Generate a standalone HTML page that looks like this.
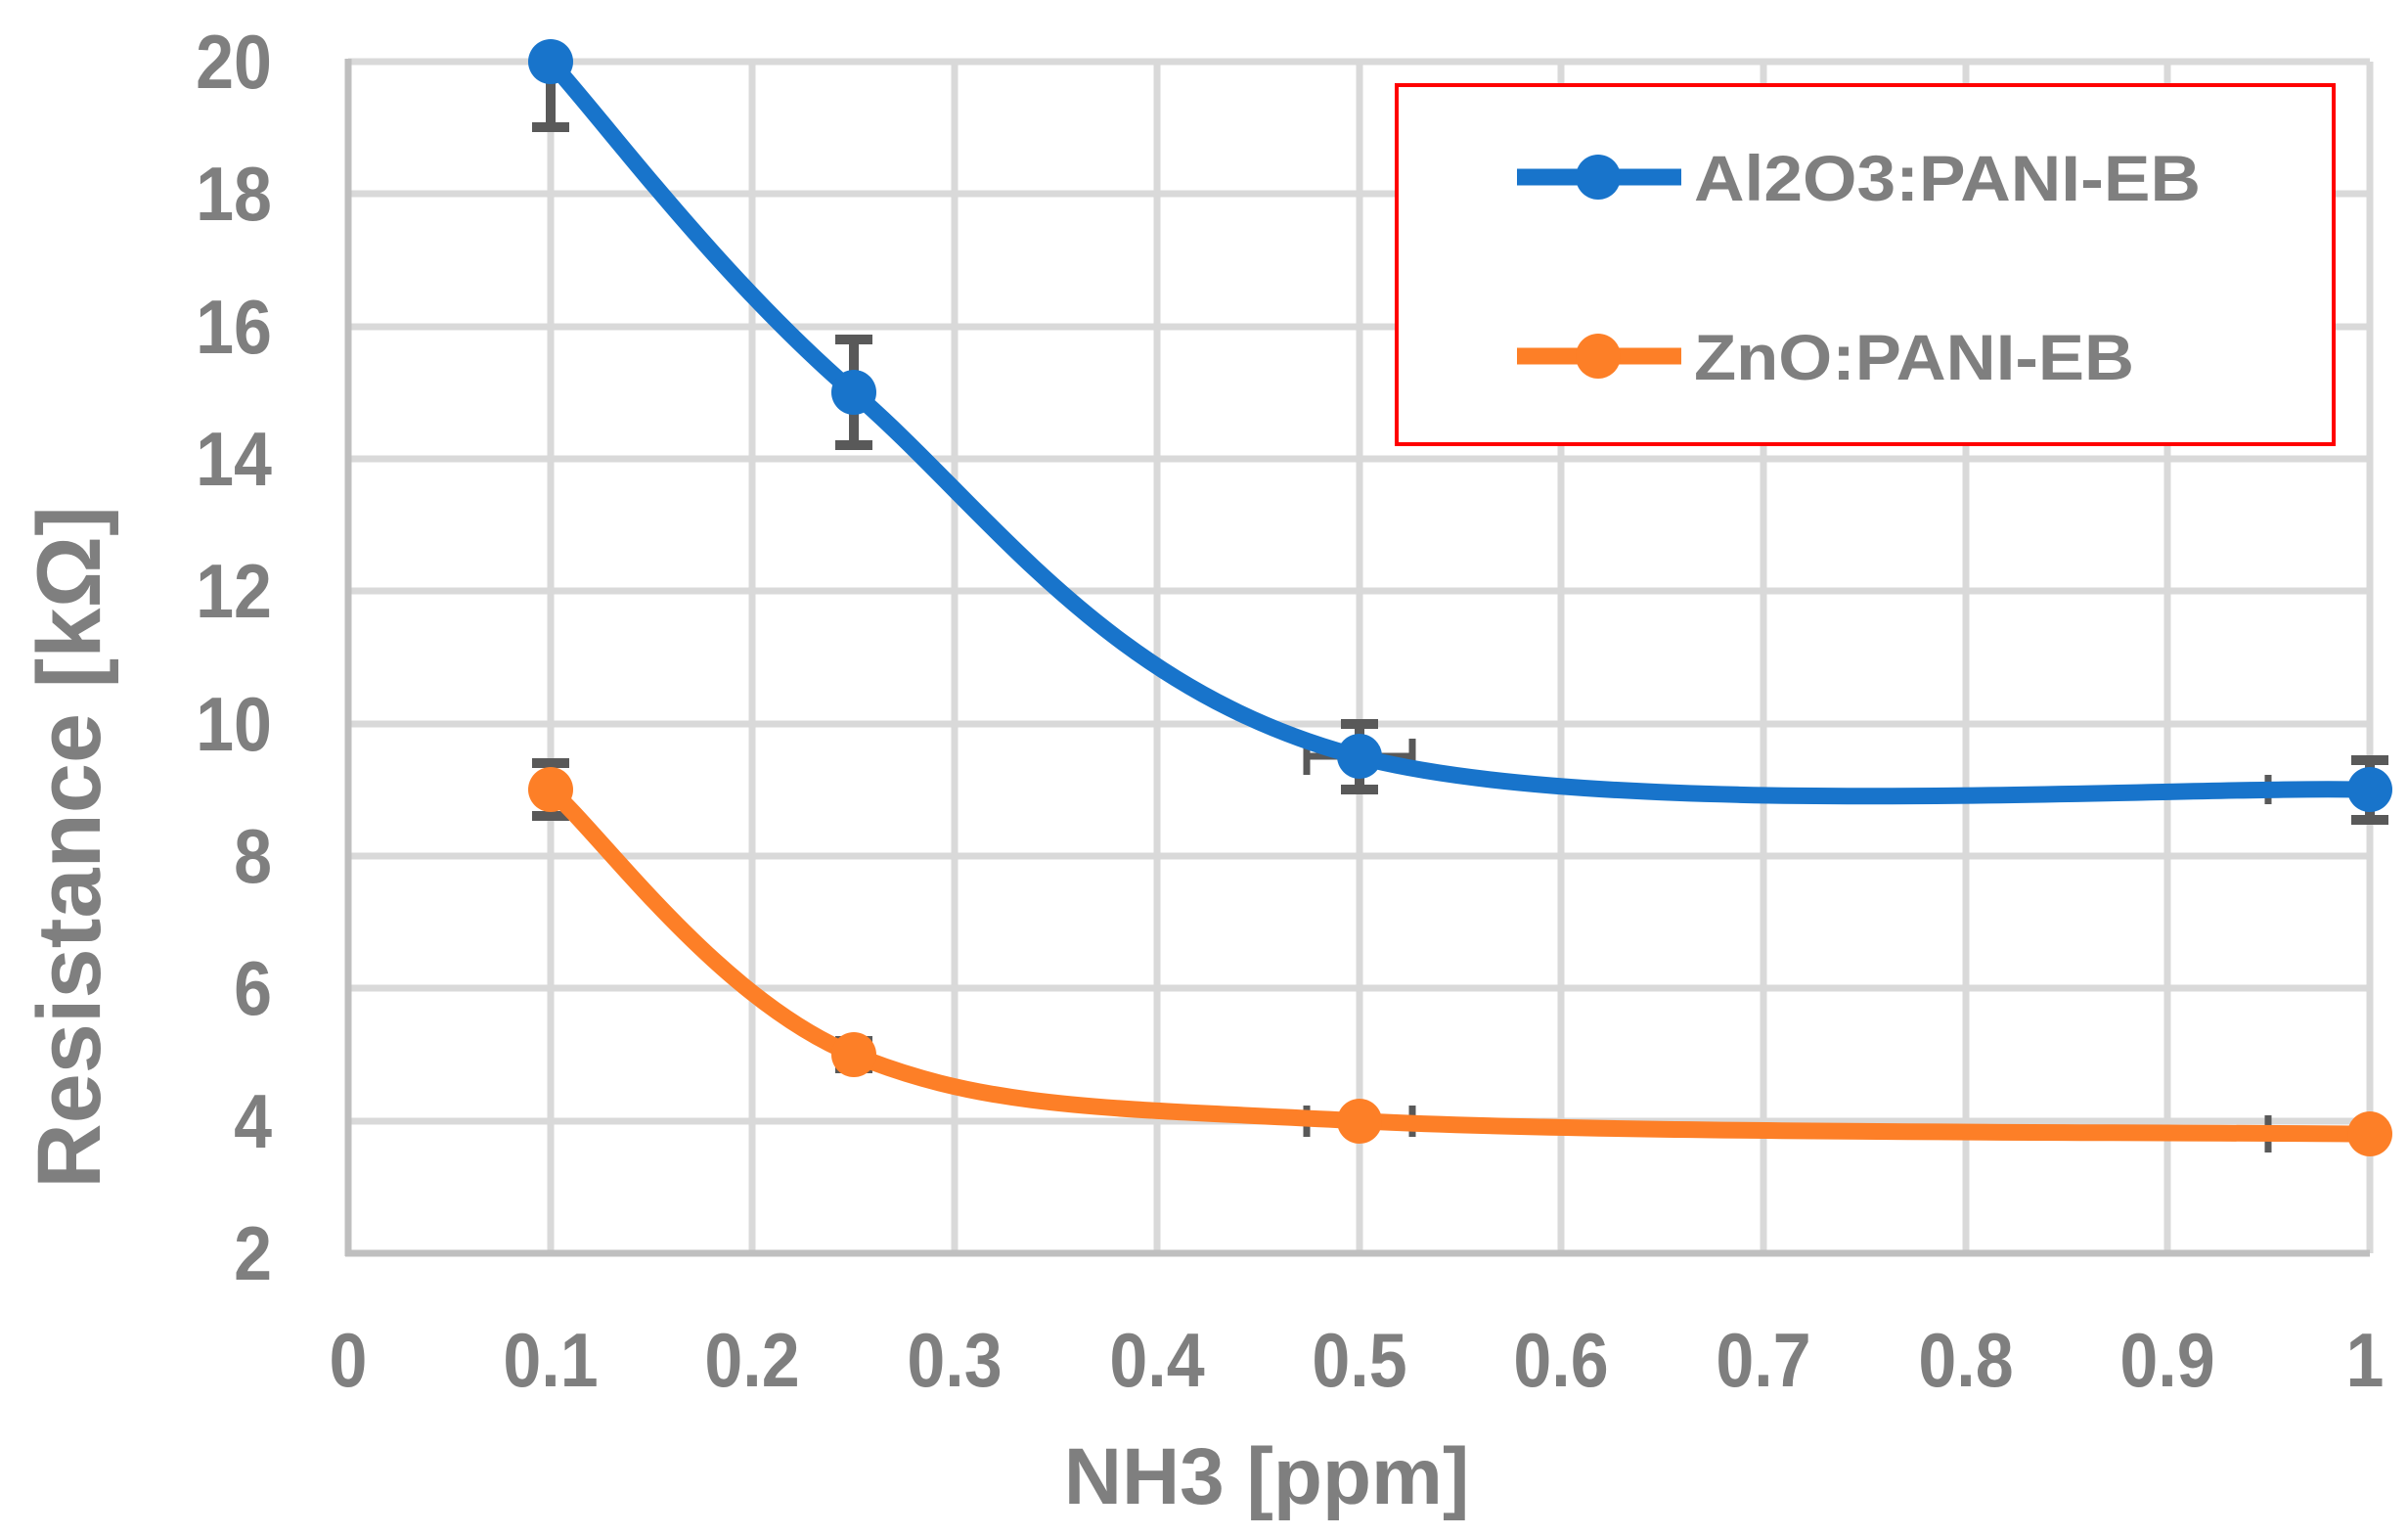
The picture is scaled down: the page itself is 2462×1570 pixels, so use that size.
<!DOCTYPE html>
<html><head><meta charset="utf-8"><style>html,body{margin:0;padding:0;background:#fff}svg{display:block}</style></head>
<body>
<svg width="2462" height="1570" viewBox="0 0 2462 1570" xmlns="http://www.w3.org/2000/svg">
<g stroke="#d9d9d9" stroke-width="7">
<line x1="356" y1="63" x2="2423" y2="63"/>
<line x1="356" y1="198" x2="2423" y2="198"/>
<line x1="356" y1="334" x2="2423" y2="334"/>
<line x1="356" y1="469" x2="2423" y2="469"/>
<line x1="356" y1="604" x2="2423" y2="604"/>
<line x1="356" y1="740" x2="2423" y2="740"/>
<line x1="356" y1="875" x2="2423" y2="875"/>
<line x1="356" y1="1010" x2="2423" y2="1010"/>
<line x1="356" y1="1146" x2="2423" y2="1146"/>
<line x1="563" y1="63" x2="563" y2="1281"/>
<line x1="769" y1="63" x2="769" y2="1281"/>
<line x1="976" y1="63" x2="976" y2="1281"/>
<line x1="1183" y1="63" x2="1183" y2="1281"/>
<line x1="1390" y1="63" x2="1390" y2="1281"/>
<line x1="1596" y1="63" x2="1596" y2="1281"/>
<line x1="1803" y1="63" x2="1803" y2="1281"/>
<line x1="2010" y1="63" x2="2010" y2="1281"/>
<line x1="2216" y1="63" x2="2216" y2="1281"/>
<line x1="2423" y1="63" x2="2423" y2="1281"/>
</g>
<g stroke="#bfbfbf" stroke-width="7">
<line x1="356" y1="60" x2="356" y2="1284"/>
<line x1="353" y1="1281" x2="2423" y2="1281"/>
</g>
<g font-family="'Liberation Sans',sans-serif" font-weight="bold" font-size="70" fill="#7f7f7f" text-anchor="end">
<text x="278" y="90" transform="translate(0,90) scale(1,1.12) translate(0,-90)">20</text>
<text x="278" y="225" transform="translate(0,225) scale(1,1.12) translate(0,-225)">18</text>
<text x="278" y="361" transform="translate(0,361) scale(1,1.12) translate(0,-361)">16</text>
<text x="278" y="496" transform="translate(0,496) scale(1,1.12) translate(0,-496)">14</text>
<text x="278" y="631" transform="translate(0,631) scale(1,1.12) translate(0,-631)">12</text>
<text x="278" y="767" transform="translate(0,767) scale(1,1.12) translate(0,-767)">10</text>
<text x="278" y="902" transform="translate(0,902) scale(1,1.12) translate(0,-902)">8</text>
<text x="278" y="1037" transform="translate(0,1037) scale(1,1.12) translate(0,-1037)">6</text>
<text x="278" y="1173" transform="translate(0,1173) scale(1,1.12) translate(0,-1173)">4</text>
<text x="278" y="1308" transform="translate(0,1308) scale(1,1.12) translate(0,-1308)">2</text>
</g>
<g font-family="'Liberation Sans',sans-serif" font-weight="bold" font-size="70" fill="#7f7f7f" text-anchor="middle">
<g transform="translate(0,1417) scale(1,1.12) translate(0,-1417)">
<text x="356" y="1417">0</text><text x="563" y="1417">0.1</text><text x="769" y="1417">0.2</text>
<text x="976" y="1417">0.3</text><text x="1183" y="1417">0.4</text><text x="1390" y="1417">0.5</text>
<text x="1596" y="1417">0.6</text><text x="1803" y="1417">0.7</text><text x="2010" y="1417">0.8</text>
<text x="2216" y="1417">0.9</text><text x="2418" y="1417">1</text>
</g>
<text x="1295" y="1537" font-size="82">NH3 [ppm]</text>
<text transform="translate(102,866) rotate(-90)" font-size="92">Resistance [kΩ]</text>
</g>
<g stroke="#595959" stroke-width="10" fill="none">
<path d="M563 63V130M544 130H582"/>
<path d="M873 347V455M854 347H892M854 455H892"/>
<path d="M1390 740V807M1371 740H1409M1371 807H1409"/>
<path d="M1336 773H1444M1336 755V792M1444 755V792" stroke-width="7"/>
<path d="M2423 777V838M2404 777H2442M2404 838H2442"/>
<path d="M2319 792V822" stroke-width="7"/>
<path d="M563 780V834M544 780H582M544 834H582"/>
<path d="M873 1064V1092M854 1064H892M854 1092H892"/>
<path d="M1336 1130V1162M1444 1130V1162" stroke-width="7"/>
<path d="M2319 1140V1178" stroke-width="7"/>
</g>
<path d="M562.7 63C614.4 119.4 735 282.9 872.8 401.3C1010.6 519.7 1131.1 705.8 1389.5 773.5C1647.9 841.2 2250.7 801.7 2423 807.3" stroke="#1874cb" stroke-width="17" fill="none"/>
<path d="M562.7 807.3C614.4 852.4 735 1021.6 872.8 1078C1010.6 1134.4 1131.1 1132.2 1389.5 1145.7C1647.9 1159.2 2250.7 1157 2423 1159.2" stroke="#fd7f27" stroke-width="17" fill="none"/>
<g fill="#1874cb"><circle cx="563" cy="63" r="23"/><circle cx="873" cy="401" r="23"/><circle cx="1390" cy="773" r="23"/><circle cx="2423" cy="807" r="23"/></g>
<g fill="#fd7f27"><circle cx="563" cy="807" r="23"/><circle cx="873" cy="1078" r="23"/><circle cx="1390" cy="1146" r="23"/><circle cx="2423" cy="1159" r="23"/></g>
<rect x="1428" y="87" width="958" height="367" fill="#fff" stroke="#ff0000" stroke-width="4"/>
<line x1="1551" y1="181" x2="1719" y2="181" stroke="#1874cb" stroke-width="17"/>
<circle cx="1634" cy="181" r="23" fill="#1874cb"/>
<line x1="1551" y1="364" x2="1719" y2="364" stroke="#fd7f27" stroke-width="17"/>
<circle cx="1634" cy="364" r="23" fill="#fd7f27"/>
<g font-family="'Liberation Sans',sans-serif" font-weight="bold" font-size="66" fill="#7f7f7f">
<text x="1732" y="205" textLength="518" lengthAdjust="spacingAndGlyphs">Al2O3:PANI-EB</text>
<text x="1732" y="388" textLength="450" lengthAdjust="spacingAndGlyphs">ZnO:PANI-EB</text>
</g>
</svg>
</body></html>
